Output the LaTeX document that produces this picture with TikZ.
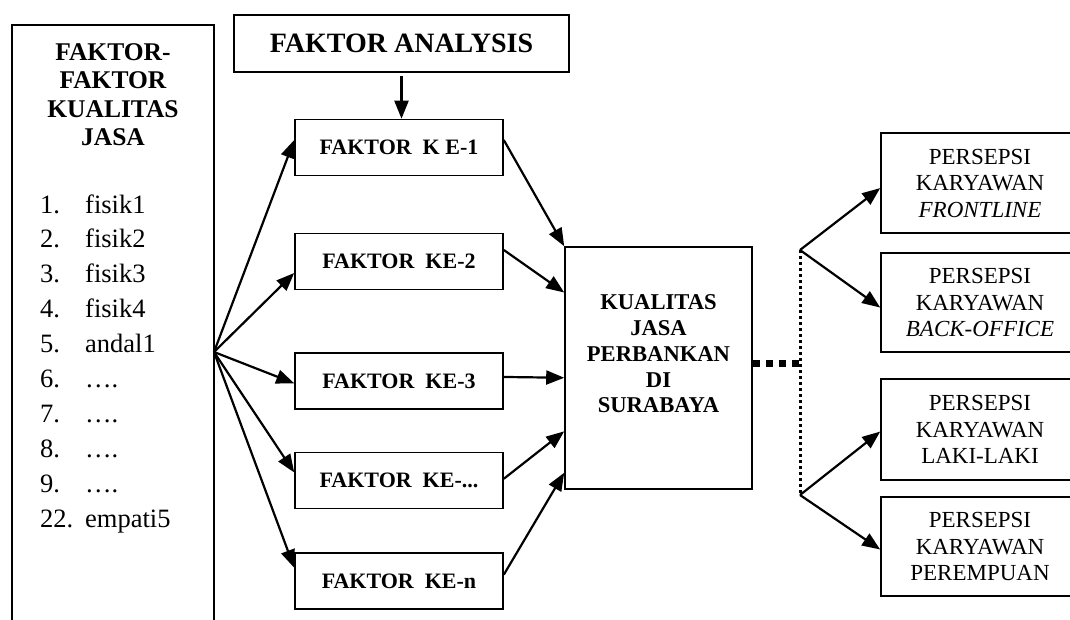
\documentclass[tikz,border=0pt]{standalone}
\usepackage{fontspec}
\setmainfont{Liberation Serif}
\usetikzlibrary{arrows.meta,calc}

\begin{document}
\begin{tikzpicture}[x=1pt,y=-1pt,
  box/.style={draw,line width=1.6pt,inner sep=0pt,align=center},
  fbox/.style={box,minimum width=208pt,minimum height=56pt,font=\fontsize{22}{26}\selectfont\bfseries},
  pbox/.style={box,minimum width=198pt,minimum height=100pt,font=\fontsize{23}{26.5}\selectfont},
  arr/.style={line width=2.2pt,-{Triangle[length=18pt,width=14pt]}},
  item/.style={anchor=base west,inner sep=0pt,font=\fontsize{26.5}{30}\selectfont}]

\clip (0,0) rectangle (1070,619);

% kolom kiri
\draw[line width=1.4pt] (12,630) -- (12,25) -- (214,25) -- (214,630);
\node[anchor=north,inner sep=0pt,align=center,font=\fontsize{25.5}{28.5}\selectfont\bfseries] (judul) at (113,43) {FAKTOR-\\FAKTOR\\KUALITAS\\JASA};

\foreach \n/\t [count=\i] in {1./fisik1,2./fisik2,3./fisik3,4./fisik4,5./andal1,6./{\ldots.},7./{\ldots.},8./{\ldots.},9./{\ldots.},22./empati5}{
  \node[item] (no\i) at (40,{213+34.9*(\i-1)}) {\n};
  \node[item] (isi\i) at (85,{213+34.9*(\i-1)}) {\t};
}

% analisis
\node[box,minimum width=335pt,minimum height=57pt,font=\fontsize{28}{32}\selectfont\bfseries] (fa) at (401.5,43.5) {FAKTOR ANALYSIS};

% faktor
\node[fbox] (f1) at (399,147.5) {FAKTOR\ \ K E-1};
\node[fbox] (f2) at (399,261.5) {FAKTOR\ \ KE-2};
\node[fbox] (f3) at (399,381) {FAKTOR\ \ KE-3};
\node[fbox] (f4) at (399,480.5) {FAKTOR\ \ KE-...};
\node[fbox] (f5) at (399,581) {FAKTOR\ \ KE-n};

% kualitas jasa
\node[box,minimum width=187pt,minimum height=242pt] (kj) at (658.5,368) {};
\node[align=center,inner sep=0pt,font=\fontsize{22.6}{25.8}\selectfont\bfseries] (kjteks) at (658.5,354) {KUALITAS\\JASA\\PERBANKAN\\DI\\SURABAYA};

% persepsi
\node[pbox] (p1) at (980,183) {PERSEPSI\\KARYAWAN\\\textit{FRONTLINE}};
\node[pbox,minimum height=99pt] (p2) at (980,302.5) {PERSEPSI\\KARYAWAN\\\textit{BACK-OFFICE}};
\node[pbox,minimum height=101pt] (p3) at (980,429.5) {PERSEPSI\\KARYAWAN\\LAKI-LAKI};
\node[pbox,minimum height=99pt] (p4) at (980,546.5) {PERSEPSI\\KARYAWAN\\PEREMPUAN};

% panah
\coordinate (src) at (214,352);
\coordinate (atas) at (800,250);
\coordinate (bawah) at (800,495);

\draw[arr] ([yshift=-3pt]fa.south) -- (fa.south |- f1.north);

\foreach \f/\a in {f1/.37,f2/.7,f3/.54,f4/.36,f5/.27}
  \draw[arr] (src) -- ($(\f.north west)!\a!(\f.south west)$);

\foreach \f/\a/\b in {f1/.37/0,f2/.3/.19,f3/.43/.54,f4/.47/.76,f5/.39/.93}
  \draw[arr] ($(\f.north east)!\a!(\f.south east)$) -- ($(kj.north west)!\b!(kj.south west)$);

\draw[line width=7pt,dash pattern=on 7pt off 6pt] ($(kj.north east)!.48!(kj.south east)$) coordinate (kanan) -- (kanan -| atas);
\draw[line width=3pt,dash pattern=on 3pt off 3pt] (atas) -- (bawah);

\draw[arr] (atas) -- ($(p1.north west)!.55!(p1.south west)$);
\draw[arr] (atas) -- ($(p2.north west)!.55!(p2.south west)$);
\draw[arr] (bawah) -- ($(p3.north west)!.52!(p3.south west)$);
\draw[arr] (bawah) -- ($(p4.north west)!.53!(p4.south west)$);

\end{tikzpicture}
\end{document}
